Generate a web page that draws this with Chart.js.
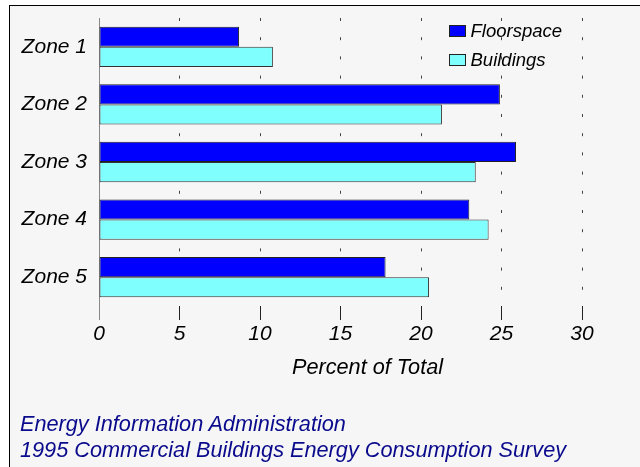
<!DOCTYPE html>
<html>
<head>
<meta charset="utf-8">
<script src="https://cdn.jsdelivr.net/npm/chart.js@4/dist/chart.umd.min.js"></script>
<style>
    html, body { margin: 0; padding: 0; background: #ffffff; }
    body { width: 640px; height: 467px; position: relative; overflow: hidden; }
    .frame {
        position: absolute; left: 9px; top: 5px; width: 700px; height: 500px;
        background: #f6f6f6; border-left: 1px solid #000; border-top: 1px solid #000;
    }
    .wrap { position: absolute; left: 0; top: 0; width: 640px; height: 467px; }
    .source {
        position: absolute; left: 20px; font-family: 'Liberation Sans', Arial, sans-serif;
        font-style: italic; font-size: 21.7px; line-height: 26px; color: #0a0a8c; white-space: nowrap;
    }
</style>
</head>
<body>
<div class="frame"></div>
<div class="wrap"><canvas id="chart"></canvas></div>
<div class="source" style="top: 411px;">Energy Information Administration</div>
<div class="source" style="top: 437px;">1995 Commercial Buildings Energy Consumption Survey</div>
<script>
    const zones = ['Zone 1', 'Zone 2', 'Zone 3', 'Zone 4', 'Zone 5'];
    const floorspace = [8.7, 24.9, 25.9, 23.0, 17.8];
    const buildings = [10.8, 21.3, 23.4, 24.2, 20.5];
    const xTicks = [0, 5, 10, 15, 20, 25, 30];
    const xTitle = 'Percent of Total';

    const fontFamily = "'Liberation Sans', Arial, sans-serif";

    // legend box drawn inside the plot, top right
    const boxLegend = {
        id: 'boxLegend',
        afterDraw(chart) {
            const ctx = chart.ctx;
            ctx.save();
            ctx.font = 'italic 18.5px ' + fontFamily;
            ctx.textBaseline = 'middle';
            chart.data.datasets.forEach((ds, i) => {
                const y = 31 + i * 29;
                ctx.fillStyle = ds.backgroundColor;
                ctx.fillRect(449.5, y - 5.5, 16, 11);
                ctx.strokeStyle = '#222';
                ctx.lineWidth = 1;
                ctx.strokeRect(449.5, y - 5.5, 16, 11);
                ctx.fillStyle = '#000';
                ctx.fillText(ds.label, 470.5, y + 1);
            });
            ctx.restore();
        }
    };

    // axis title sits right of the scale centre in the original
    const axisTitle = {
        id: 'axisTitle',
        afterDraw(chart) {
            const ctx = chart.ctx;
            ctx.save();
            ctx.font = 'italic 21.7px ' + fontFamily;
            ctx.textAlign = 'center';
            ctx.textBaseline = 'middle';
            ctx.fillStyle = '#000';
            ctx.fillText(xTitle, 367.5, 368);
            ctx.restore();
        }
    };

    new Chart(document.getElementById('chart'), {
        type: 'bar',
        data: {
            labels: zones,
            datasets: [{
                label: 'Floorspace',
                data: floorspace,
                backgroundColor: '#0000ff',
                borderColor: '#222',
                borderWidth: 1,
                borderSkipped: false
            }, {
                label: 'Buildings',
                data: buildings,
                backgroundColor: '#80ffff',
                borderColor: '#333',
                borderWidth: 1,
                borderSkipped: false
            }]
        },
        options: {
            indexAxis: 'y',
            responsive: true,
            maintainAspectRatio: false,
            animation: false,
            layout: { padding: { top: 18, right: 58, left: 0, bottom: 0 } },
            datasets: { bar: { categoryPercentage: 0.7, barPercentage: 1.0 } },
            scales: {
                x: {
                    min: 0,
                    max: 30,
                    afterFit: (scale) => { scale.height = 161; },
                    afterBuildTicks: (scale) => { scale.ticks = xTicks.map(v => ({ value: v })); },
                    grid: {
                        color: (c) => c.index === 0 ? 'rgba(0,0,0,0)' : '#444',
                        lineWidth: 1,
                        tickLength: 14,
                        tickWidth: 1,
                        tickColor: (c) => c.index === 0 ? '#888' : '#222',
                        tickBorderDash: []
                    },
                    border: { display: false, dash: [3, 16.2] },
                    ticks: {
                        color: '#000',
                        padding: 2,
                        font: { family: fontFamily, size: 21, style: 'italic' }
                    }
                },
                y: {
                    afterFit: (scale) => {
                        scale.width = 99;
                        scale.paddingTop = 0;
                        scale.paddingBottom = 0;
                    },
                    grid: { display: false, drawTicks: false },
                    border: { display: true, color: '#888', width: 1 },
                    ticks: {
                        color: '#000',
                        padding: 12,
                        font: { family: fontFamily, size: 21, style: 'italic' }
                    }
                }
            },
            plugins: {
                legend: { display: false },
                tooltip: { enabled: false }
            }
        },
        plugins: [boxLegend, axisTitle]
    });
</script>
</body>
</html>
